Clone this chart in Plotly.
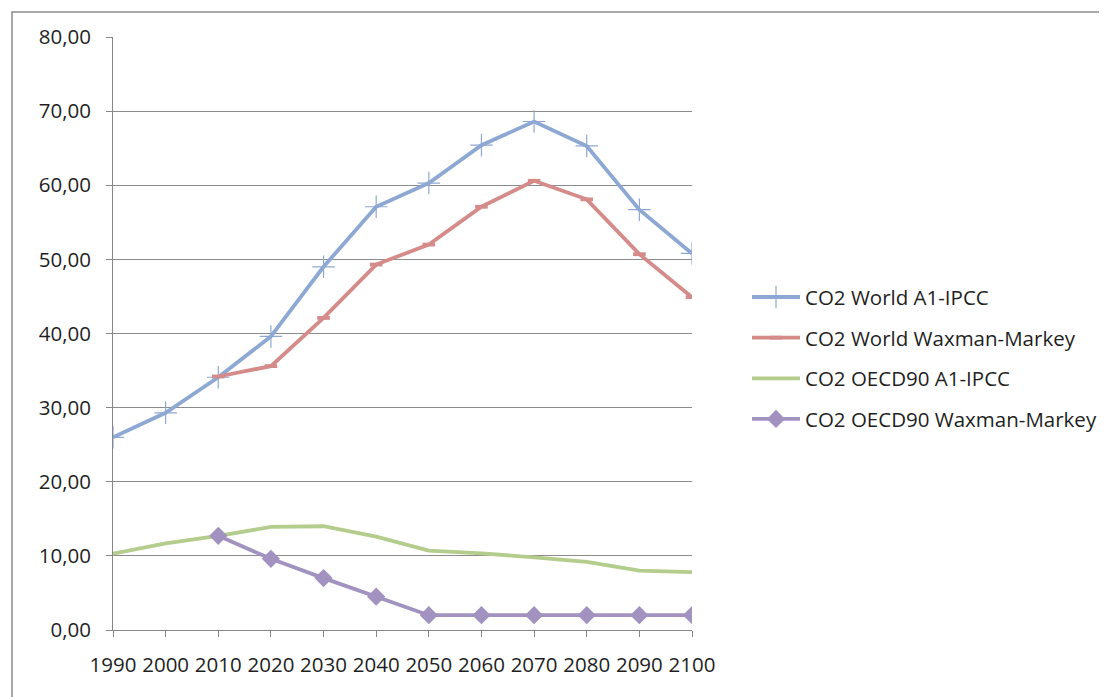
import plotly.graph_objects as go

years = [1990, 2000, 2010, 2020, 2030, 2040, 2050, 2060, 2070, 2080, 2090, 2100]
world_a1 = [26.0, 29.3, 34.1, 39.6, 49.0, 57.1, 60.3, 65.4, 68.6, 65.3, 56.7, 50.8]
wm_years = [2010, 2020, 2030, 2040, 2050, 2060, 2070, 2080, 2090, 2100]
world_wm = [34.2, 35.6, 42.1, 49.3, 52.0, 57.1, 60.6, 58.1, 50.7, 44.9]
oecd_a1 = [10.3, 11.7, 12.7, 13.9, 14.0, 12.6, 10.7, 10.35, 9.8, 9.2, 8.0, 7.8]
oecd_wm = [12.7, 9.6, 7.0, 4.5, 2.0, 2.0, 2.0, 2.0, 2.0, 2.0]
y_ticks = [0, 10, 20, 30, 40, 50, 60, 70, 80]
y_labels = ["0,00", "10,00", "20,00", "30,00", "40,00", "50,00", "60,00", "70,00", "80,00"]

BLUE = "#8EA8D4"
RED = "#D48B89"
GREEN = "#B4CC8C"
PURPLE = "#A192C0"
FONT = "Open Sans"
FS = 20.5
TXT = "#1F1F1F"

fig = go.Figure()
fig.add_trace(go.Scatter(
    x=years, y=world_a1, name="CO2 World A1-IPCC", mode="lines+markers",
    line=dict(color=BLUE, width=3.8),
    marker=dict(symbol="cross-thin", size=16, line=dict(color=BLUE, width=1.2)),
    legendgroup="a"))
fig.add_trace(go.Scatter(
    x=wm_years, y=world_wm, name="CO2 World Waxman-Markey", mode="lines+markers",
    line=dict(color=RED, width=3.8),
    marker=dict(symbol="line-ew", size=9, line=dict(color=RED, width=3.8)),
    legendgroup="b"))
fig.add_trace(go.Scatter(
    x=years, y=oecd_a1, name="CO2 OECD90 A1-IPCC", mode="lines",
    line=dict(color=GREEN, width=3.8),
    legendgroup="c"))
fig.add_trace(go.Scatter(
    x=wm_years, y=oecd_wm, name="CO2 OECD90 Waxman-Markey", mode="lines+markers",
    line=dict(color=PURPLE, width=3.8),
    marker=dict(symbol="diamond", size=14, color=PURPLE),
    legendgroup="d"))

fig.update_layout(
    width=1107, height=697,
    margin=dict(l=105, r=423, t=29, b=75),
    paper_bgcolor="white", plot_bgcolor="white",
    font=dict(family=FONT, size=FS, color=TXT),
    showlegend=True,
    legend=dict(x=1.095, y=0.595, xanchor="left", yanchor="top",
                font=dict(family=FONT, size=FS, color=TXT),
                itemwidth=48, tracegroupgap=11, bgcolor="rgba(0,0,0,0)"),
    xaxis=dict(range=[1990, 2100], tickvals=years, ticktext=[str(y) for y in years],
               showgrid=False, zeroline=False, showline=True, linecolor="#868686",
               linewidth=1, ticks="outside", ticklen=6, tickcolor="#868686",
               ticklabelstandoff=10,
               tickfont=dict(family=FONT, size=FS, color=TXT)),
    yaxis=dict(range=[0, 80], tickvals=y_ticks, ticktext=y_labels,
               showgrid=True, gridcolor="#8C8C8C", gridwidth=1, zeroline=False,
               showline=True, linecolor="#868686", linewidth=1, ticks="outside",
               ticklen=6, tickcolor="#868686", ticklabelstandoff=11,
               tickfont=dict(family=FONT, size=FS, color=TXT)),
    shapes=[dict(type="rect", xref="paper", yref="paper",
                 x0=(12 - 113) / 579, x1=2.0, y0=-0.3, y1=(630 - 12) / 593,
                 line=dict(color="#8C8C8C", width=1.5), fillcolor="rgba(0,0,0,0)",
                 layer="below")],
)

fig.write_html("out.html")
